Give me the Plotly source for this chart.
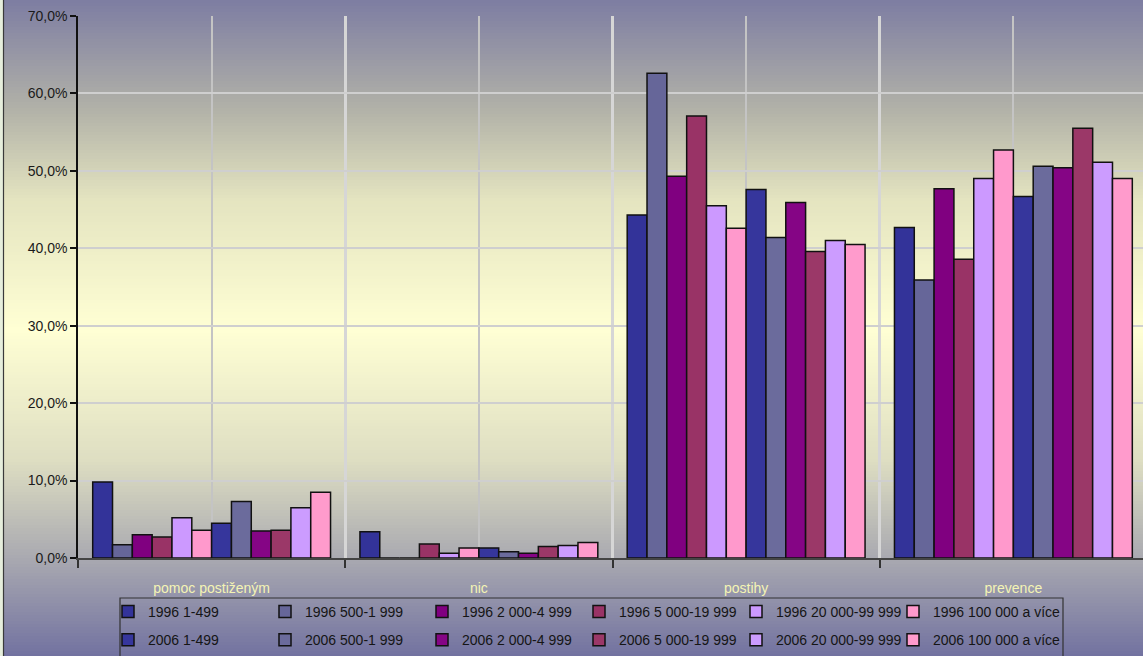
import plotly.graph_objects as go

# kategorie a hodnoty (v %)
kategorie = ["pomoc postiženým", "nic", "postihy", "prevence"]
velikosti = ["1-499", "500-1 999", "2 000-4 999", "5 000-19 999", "20 000-99 999", "100 000 a více"]

h1996_1_499 = [9.8, 3.4, 44.3, 42.7]
h1996_500 = [1.7, 0.0, 62.6, 35.9]
h1996_2000 = [3.0, 0.0, 49.3, 47.7]
h1996_5000 = [2.7, 1.8, 57.1, 38.6]
h1996_20000 = [5.2, 0.6, 45.5, 49.0]
h1996_100000 = [3.6, 1.3, 42.6, 52.7]

h2006_1_499 = [4.5, 1.3, 47.6, 46.7]
h2006_500 = [7.3, 0.8, 41.4, 50.6]
h2006_2000 = [3.5, 0.6, 45.9, 50.4]
h2006_5000 = [3.6, 1.5, 39.6, 55.5]
h2006_20000 = [6.5, 1.6, 41.0, 51.1]
h2006_100000 = [8.5, 2.0, 40.5, 49.0]

rada_1996 = [h1996_1_499, h1996_500, h1996_2000, h1996_5000, h1996_20000, h1996_100000]
rada_2006 = [h2006_1_499, h2006_500, h2006_2000, h2006_5000, h2006_20000, h2006_100000]

barvy_1996 = ["#333399", "#666699", "#800080", "#993366", "#CC99FF", "#FF99CC"]
barvy_2006 = ["#36369c", "#6b6b9c", "#850585", "#9b3868", "#cc9cff", "#ff9bcc"]

W, H = 1143, 656
ML, MR, MT, MB = 78, 0, 16, 98
pw, ph = W - ML - MR, H - MT - MB


def px_x(x):
    return (x - ML) / pw


def px_y(y):
    return (H - MB - y) / ph


def leg_id(k):
    return "legend" if k == 0 else "legend%d" % (k + 1)


x = list(range(len(kategorie)))
fig = go.Figure()
for rok, rada, barvy in [("1996", rada_1996, barvy_1996), ("2006", rada_2006, barvy_2006)]:
    for i, hodnoty in enumerate(rada):
        jmeno = rok + " " + velikosti[i]
        # kazdy sloupec legendy je samostatna legenda (1996 nahore, 2006 dole)
        fig.add_trace(go.Bar(x=x, y=hodnoty, name=jmeno, legend=leg_id(i), legendgroup=jmeno,
                             marker=dict(color=barvy[i], line=dict(color="#111", width=1.5))))

# prechod pozadi (fialova - zluta - fialova)
stops = [(0, (125, 125, 162)), (110, (178, 178, 168)), (200, (228, 228, 192)),
         (330, (255, 255, 212)), (460, (222, 222, 194)), (560, (168, 168, 176)),
         (656, (114, 114, 160))]


def barva(y):
    for (y0, c0), (y1, c1) in zip(stops, stops[1:]):
        if y0 <= y <= y1:
            t = (y - y0) / (y1 - y0)
            return "rgb(%d,%d,%d)" % tuple(round(a + (b - a) * t) for a, b in zip(c0, c1))
    return "rgb(%d,%d,%d)" % stops[-1][1]


shapes = []
step = 3
for y in range(0, H, step):
    shapes.append(dict(type="rect", xref="paper", yref="paper", layer="below",
                       x0=px_x(0), x1=px_x(W + 2), y0=px_y(y + step + 0.5), y1=px_y(y),
                       fillcolor=barva(y + step / 2), line=dict(width=0)))
# levy okraj
shapes.append(dict(type="rect", xref="paper", yref="paper", layer="above",
                   x0=px_x(0), x1=px_x(3), y0=px_y(H + 2), y1=px_y(-2),
                   fillcolor="#e6eedc", line=dict(width=0)))
shapes.append(dict(type="line", xref="paper", yref="paper", layer="above",
                   x0=px_x(3.5), x1=px_x(3.5), y0=px_y(H + 2), y1=px_y(-2),
                   line=dict(color="#3a3a3a", width=1.2)))
# ramecek legendy
shapes.append(dict(type="rect", xref="paper", yref="paper", layer="above",
                   x0=px_x(120), x1=px_x(1063), y0=px_y(H + 10), y1=px_y(598),
                   line=dict(color="#333", width=1.2)))

legendy = {}
for k in range(len(velikosti)):
    legendy[leg_id(k)] = dict(orientation="v", xanchor="left", yanchor="middle",
                              x=px_x(108 + k * 157), y=px_y(626), tracegroupgap=7,
                              bgcolor="rgba(0,0,0,0)", borderwidth=0,
                              font=dict(size=14, color="#151515"), itemclick=False)

fig.update_layout(
    width=W, height=H, autosize=False,
    margin=dict(l=ML, r=MR, t=MT, b=MB),
    paper_bgcolor="rgba(0,0,0,0)", plot_bgcolor="rgba(0,0,0,0)",
    font=dict(family="Liberation Sans, Arial, sans-serif", size=14, color="#1a1a1a"),
    separators=", ",
    barmode="group", bargap=0.11, bargroupgap=0,
    shapes=shapes,
    showlegend=True,
    **legendy,
    xaxis=dict(range=[-0.5, 3.485], tickvals=x, ticktext=kategorie, ticks="",
               showgrid=True, gridcolor="#c4c4c4", gridwidth=2,
               minor=dict(tick0=-0.5, dtick=1, showgrid=True, gridcolor="#d6d6d6", gridwidth=3,
                          ticks="outside", ticklen=8, tickcolor="#333", tickwidth=1.5),
               showline=True, linecolor="#444", linewidth=1.5, zeroline=False,
               tickfont=dict(size=14, color="#f4f4b4"), ticklabelstandoff=16, fixedrange=True),
    yaxis=dict(range=[0, 70], dtick=10, tickformat=".1f", ticksuffix="%",
               showgrid=True, gridcolor="#cfcfcf", gridwidth=1.5,
               showline=True, linecolor="#111", linewidth=1.5, zeroline=False,
               ticks="outside", ticklen=6, tickcolor="#111", tickwidth=1.5,
               tickfont=dict(size=14, color="#1a1a1a"), fixedrange=True),
)

fig.write_html("out.html", config={"displayModeBar": False},
               post_script="document.body.style.margin='0';document.body.style.overflow='hidden';")
